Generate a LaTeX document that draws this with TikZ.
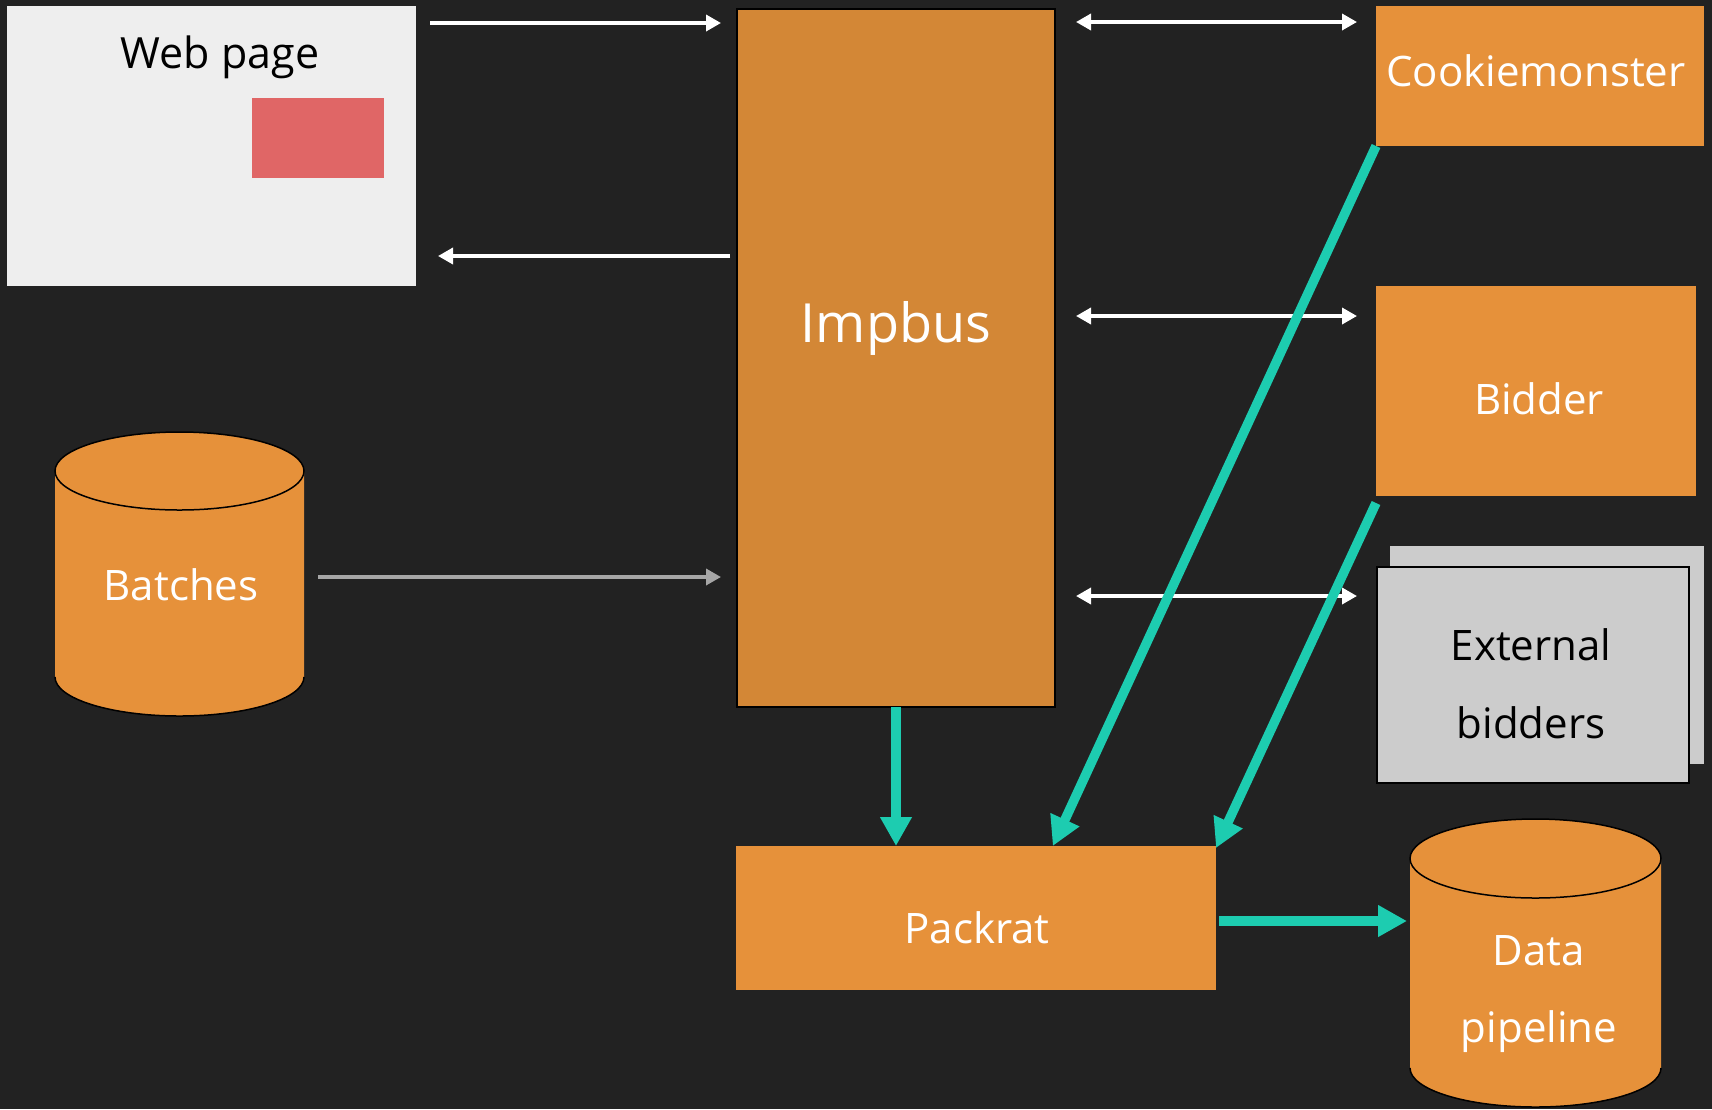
\documentclass[tikz,border=0pt]{standalone}
\usepackage{fontspec}
\setmainfont{Open Sans}
\usetikzlibrary{arrows.meta,calc}
\definecolor{bg}{HTML}{222222}
\definecolor{boxor}{HTML}{E6913A}
\definecolor{busor}{HTML}{D38736}
\definecolor{flowteal}{HTML}{1DCCB0}
\definecolor{pagegray}{HTML}{EEEEEE}
\definecolor{adred}{HTML}{E06666}
\definecolor{extgray}{HTML}{CCCCCC}
\definecolor{batcharrow}{HTML}{A6A6A6}
\begin{document}
\begin{tikzpicture}[x=1pt,y=-1pt,
  box/.style={inner sep=0pt, outer sep=0pt, anchor=north west},
  lbl/.style={anchor=base, inner sep=0pt, text=white, font=\fontsize{42}{78}\selectfont},
  wa/.style={draw=white, line width=3.5pt, -{Triangle[length=15pt,width=16pt]}},
  wd/.style={draw=white, line width=3.5pt, {Triangle[length=15pt,width=16pt]}-{Triangle[length=15pt,width=16pt]}},
  ga/.style={draw=batcharrow, line width=3.5pt, -{Triangle[length=15pt,width=16pt]}},
  ta/.style={draw=flowteal, line width=9.5pt, -{Triangle[length=29pt,width=30pt]}},
  dbfill/.style={fill=boxor},
  dbline/.style={draw=black, line width=1.5pt},
]
% canvas
\fill[bg] (0,0) rectangle (1712,1109);
\useasboundingbox (0,0) rectangle (1712,1109);

% web page with an ad slot
\node[box, fill=pagegray, minimum width=409pt, minimum height=280pt] (web) at (7,6) {};
\node[box, fill=adred, minimum width=132pt, minimum height=80pt] (ad) at (252,98) {};
\node[lbl, text=black, font=\fontsize{43}{50}\selectfont] (webt) at (220,68) {Web page};

% impression bus
\node[box, fill=busor, draw=black, line width=2.5pt, minimum width=318pt, minimum height=698pt] (imp) at (737,9) {};
\node[lbl, font=\fontsize{54}{60}\selectfont] (impt) at (896,342) {Impbus};

% services on the right
\node[box, fill=boxor, minimum width=328pt, minimum height=140pt] (cook) at (1376,6) {};
\node[lbl] (cookt) at (1536,86) {Cookiemonster};
\node[box, fill=boxor, minimum width=320pt, minimum height=210pt] (bid) at (1376,286) {};
\node[lbl] (bidt) at (1539,414) {Bidder};

% stacked external bidders
\node[box, fill=extgray, minimum width=314pt, minimum height=218pt] (extback) at (1390,546) {};
\node[box, fill=extgray, draw=black, line width=2.5pt, minimum width=312pt, minimum height=216pt] (ext) at (1377,567) {};
\node[lbl, text=black] (extt1) at (1531,660) {External};
\node[lbl, text=black] (extt2) at (1531,738) {bidders};

% packrat
\node[box, fill=boxor, minimum width=480pt, minimum height=144pt] (pack) at (736,846) {};
\node[lbl] (packt) at (977,943) {Packrat};

% batches store
\fill[dbfill] (55,471) -- (55,677) arc[start angle=180, end angle=360, x radius=124.5pt, y radius=39pt] -- (304,471) -- cycle;
\draw[dbline] (55,677) arc[start angle=180, end angle=360, x radius=124.5pt, y radius=39pt];
\filldraw[dbfill, dbline] (179.5,471) ellipse[x radius=124.5pt, y radius=39pt];
\node[inner sep=0pt, outer sep=0pt, minimum width=249pt, minimum height=284pt] (bat) at (179.5,574) {};
\node[lbl] (batt) at (181,600) {Batches};

% data pipeline store
\fill[dbfill] (1410,858.5) -- (1410,1068) arc[start angle=180, end angle=360, x radius=125.5pt, y radius=39pt] -- (1661,858.5) -- cycle;
\draw[dbline] (1410,1068) arc[start angle=180, end angle=360, x radius=125.5pt, y radius=39pt];
\filldraw[dbfill, dbline] (1535.5,858.5) ellipse[x radius=125.5pt, y radius=39.5pt];
\node[inner sep=0pt, outer sep=0pt, minimum width=251pt, minimum height=288pt] (pipe) at (1535.5,963) {};
\node[lbl] (pipet1) at (1539,965) {Data};
\node[lbl] (pipet2) at (1539,1042) {pipeline};

% request / response with the page
\draw[wa, shorten <=14pt, shorten >=16pt] (web.east |- 0,23) -- (imp.west |- 0,23);
\draw[wa, shorten <=7pt, shorten >=22pt] (imp.west |- 0,256) -- (web.east |- 0,256);
\draw[ga, shorten <=14pt, shorten >=16pt] (bat.east |- 0,577) -- (imp.west |- 0,577);

% calls between the bus and the services
\draw[wd, shorten <=21pt, shorten >=19pt] (imp.east |- 0,22) -- (cook.west |- 0,22);
\draw[wd, shorten <=21pt, shorten >=19pt] (imp.east |- 0,316) -- (bid.west |- 0,316);
\draw[wd, shorten <=21pt, shorten >=20pt] (imp.east |- 0,596) -- (ext.west |- 0,596);

% logging flows
\draw[ta] (imp.south) -- (imp.south |- pack.north);
\draw[ta] (cook.south west) -- ($(pack.north west)!0.66!(pack.north east)$);
\draw[ta] ([yshift=-7pt]bid.south west) -- ([yshift=-2pt]pack.north east);
\draw[ta, shorten <=3pt, shorten >=3pt] (pack.east |- 0,921) -- (pipe.west |- 0,921);
\end{tikzpicture}
\end{document}
